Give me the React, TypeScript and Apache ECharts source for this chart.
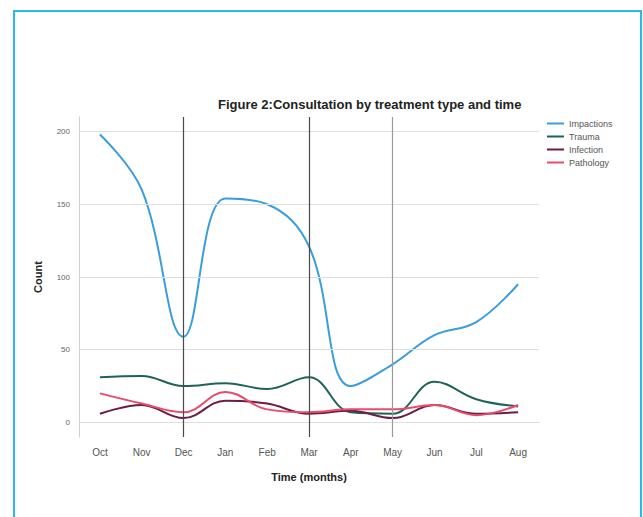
import React, { useEffect, useRef } from "react";
import * as echarts from "echarts";

const months = ["Oct", "Nov", "Dec", "Jan", "Feb", "Mar", "Apr", "May", "Jun", "Jul", "Aug"];
const impactions = [198, 160, 59, 154, 150, 121, 25, 40, 60, 69, 95];
const trauma = [31, 32, 25, 27, 23, 31, 7, 6, 28, 16, 11];
const infection = [6, 12, 3, 15, 13, 6, 8, 3, 12, 6, 7];
const pathology = [20, 13, 7, 21, 9, 7, 9, 9, 12, 5, 12];
const yTicks = [0, 50, 100, 150, 200];
const markedMonths = ["Dec", "Mar", "May"];

const font = "'Liberation Sans', Arial, sans-serif";

export default function App() {
  const ref = useRef<HTMLDivElement>(null);
  useEffect(() => {
    if (!ref.current) return;
    const chart = echarts.init(ref.current, undefined, { renderer: "svg" });
    const mk = (name: string, data: number[], color: string) => ({
      name,
      type: "line",
      data,
      smooth: 0.4,
      symbol: "none",
      z: 3,
      lineStyle: { color, width: 2 },
      itemStyle: { color },
    });
    chart.setOption({
      animation: false,
      textStyle: { fontFamily: font },
      title: {
        text: "Figure 2:Consultation by treatment type and time",
        left: 213,
        top: 93,
        textStyle: { fontSize: 13, fontWeight: "bold", color: "#222", fontFamily: font },
      },
      graphic: [
        {
          type: "rect",
          shape: { x: 14, y: 11, width: 627, height: 530 },
          style: { fill: "none", stroke: "#2bb8ec", lineWidth: 2 },
          silent: true,
        },
      ],
      legend: {
        orient: "vertical",
        left: 542,
        top: 114,
        itemGap: 4,
        itemWidth: 17,
        itemHeight: 2,
        icon: "rect",
        textStyle: { fontSize: 9, color: "#555", fontFamily: font },
        data: ["Impactions", "Trauma", "Infection", "Pathology"],
      },
      grid: { left: 79, right: 104, top: 117, bottom: 80 },
      xAxis: {
        type: "category",
        data: months,
        boundaryGap: true,
        axisLine: { lineStyle: { color: "#cfcfcf", width: 1 } },
        axisTick: { show: false },
        axisLabel: { fontSize: 10, color: "#555", margin: 10 },
        name: "Time (months)",
        nameLocation: "middle",
        nameGap: 34,
        nameTextStyle: { fontSize: 11, fontWeight: "bold", color: "#222" },
        splitLine: { show: false },
      },
      yAxis: {
        type: "value",
        min: -10,
        max: 210,
        axisLine: { show: true, lineStyle: { color: "#cfcfcf", width: 1 } },
        axisTick: { show: false },
        splitLine: { show: false },
        axisLabel: { fontSize: 8, color: "#666", margin: 9, customValues: yTicks },
        name: "Count",
        nameLocation: "middle",
        nameGap: 36,
        nameTextStyle: { fontSize: 11, fontWeight: "bold", color: "#222" },
      },
      series: [
        {
          name: "grid",
          type: "line",
          data: [],
          z: 1,
          silent: true,
          markLine: {
            silent: true,
            symbol: "none",
            label: { show: false },
            data: [
              ...yTicks.map((v) => ({ yAxis: v, lineStyle: { color: "#dedede", width: 1.2, type: "solid" } })),
              ...markedMonths.map((m, i) => ({
                xAxis: m,
                lineStyle: { color: i === 2 ? "#9a9a9a" : "#4a4a4a", width: 1.2, type: "solid" },
              })),
            ],
          },
        },
        mk("Impactions", impactions, "#3a9edd"),
        mk("Trauma", trauma, "#1f6258"),
        mk("Infection", infection, "#6c1d45"),
        mk("Pathology", pathology, "#e94c69"),
      ],
    });
    return () => chart.dispose();
  }, []);
  return (
    <div
      ref={ref}
      style={{ position: "absolute", left: 0, top: 0, width: 643, height: 517, background: "#fff" }}
    />
  );
}
